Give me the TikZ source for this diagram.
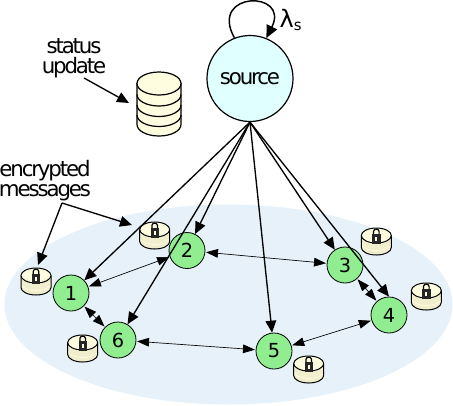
\documentclass[tikz,border=0pt]{standalone}
\usepackage{fontspec}
\setmainfont{DejaVu Sans}[LetterSpace=-10]
\usetikzlibrary{arrows.meta, positioning}
\definecolor{planeblue}{RGB}{230, 241, 249}
\definecolor{usergreen}{RGB}{144, 238, 144}
\definecolor{sourcecyan}{RGB}{224, 255, 255}
\definecolor{dbyellow}{RGB}{255, 253, 224}
\definecolor{dbshade}{RGB}{240, 238, 205}

\begin{document}
\begin{tikzpicture}[
    x=0.75pt, y=-0.75pt,
    user/.style={circle, draw=black, fill=usergreen, line width=0.6pt, minimum size=27pt, inner sep=0pt, font=\fontsize{14.5}{14.5}\selectfont},
    sourcenode/.style={circle, draw=black, fill=sourcecyan, line width=0.9pt, minimum size=64.5pt, inner sep=0pt, font=\fontsize{16}{16}\selectfont},
    lbl/.style={align=center, inner sep=0pt, font=\fontsize{16}{15}\selectfont},
    arr/.style={-{Stealth[inset=0pt, length=9pt, width=8pt]}, line width=1pt},
    looparr/.style={-{Stealth[inset=0pt, length=9.5pt, width=8.5pt]}, line width=1.1pt},
    peerarr/.style={{Stealth[inset=0pt, length=9pt, width=6.5pt]}-{Stealth[inset=0pt, length=9pt, width=6.5pt]}, line width=0.5pt, shorten >=0.5pt, shorten <=0.5pt},
    msgcyl/.pic={
        \fill[dbshade] (-15,19) -- (-15,8) -- (15,8) -- (15,19) arc[start angle=0, end angle=180, x radius=15, y radius=7.5];
        \draw[dbyellow, line width=0.5pt] (-15,15) arc[start angle=180, end angle=0, x radius=15, y radius=7.5];
        \draw[line width=0.75pt] (-15,7.5) -- (-15,19.5) arc[start angle=180, end angle=0, x radius=15, y radius=7.5] -- (15,7.5);
        \draw[line width=0.75pt, fill=dbyellow] (0,7.5) ellipse [x radius=15, y radius=7.5];
        \draw[line width=0.9pt] (-2.8,6.5) -- (-2.8,3.5) arc[start angle=180, end angle=360, x radius=2.8, y radius=2.4] -- (2.8,6.5);
        \fill[black!85] (-4.2,6) rectangle (4.2,15.5);
        \fill[dbyellow] (-1,9) rectangle (1,12.5);
    },
]
\useasboundingbox (0,0) rectangle (453,405);

% plane
\fill[planeblue] (228.5,304.5) ellipse [x radius=224, y radius=100];

% status database
\draw[line width=0.9pt, fill=dbyellow] (137,83.5) -- (137,124.5) arc[start angle=180, end angle=0, x radius=22, y radius=11.5] -- (181,83.5) -- cycle;
\draw[line width=0.9pt, fill=dbyellow] (159,83.5) ellipse [x radius=22, y radius=11.5];
\foreach \ypos in {94.5,105,115} {
    \draw[line width=0.9pt] (137,\ypos) arc[start angle=180, end angle=0, x radius=22, y radius=11.5];
}

% encrypted messages
\pic at (36,268) {msgcyl};
\pic at (154.7,222) {msgcyl};
\pic at (376.3,228) {msgcyl};
\pic at (426.3,283) {msgcyl};
\pic at (308.7,356) {msgcyl};
\pic at (82.7,335) {msgcyl};

% source and users
\node[sourcenode] (src) at (250,78.5) {source};
\node[user] (n1) at (71,293) {1};
\node[user] (n2) at (187,250.5) {2};
\node[user] (n3) at (345,265) {3};
\node[user] (n4) at (389,315) {4};
\node[user] (n5) at (274,351) {5};
\node[user] (n6) at (118,340) {6};

% labels
\node[lbl] (rate) at (291,20) {{\fontsize{18}{18}\selectfont λ}\textsubscript{s}};
\node[lbl] (status) at (74,58) {status\\update};
\node[lbl] (msgs) at (45,181) {encrypted\\messages};

\coordinate (dbtip) at (129,103);
\coordinate (msgjoin) at (62,203);
\coordinate (cyltipa) at (38,265);
\coordinate (cyltipb) at (132,225);

% arrival loop
\draw[looparr] (src.111) .. controls +(-26,-47) and +(24,-48) .. (src.68);

% source arrows
\draw[arr] (src.south) -- (n1);
\draw[arr] (src.south) -- (n2);
\draw[arr] (src.south) -- (n3);
\draw[arr] (src.south) -- (n4.north);
\draw[arr] (src.south) -- (n5);
\draw[arr] (src.south) -- (n6);

% label arrows
\draw[arr] ([xshift=7.5pt]status.south) -- (dbtip);
\draw[arr] (msgjoin) -- (cyltipa);
\draw[arr] (msgjoin) -- (cyltipb);

% user exchanges
\draw[peerarr] (n1) -- (n2);
\draw[peerarr] (n2) -- (n3);
\draw[peerarr] (n3) -- (n4);
\draw[peerarr] (n4) -- (n5);
\draw[peerarr] (n5) -- (n6);
\draw[peerarr] (n6) -- (n1);

\end{tikzpicture}
\end{document}
